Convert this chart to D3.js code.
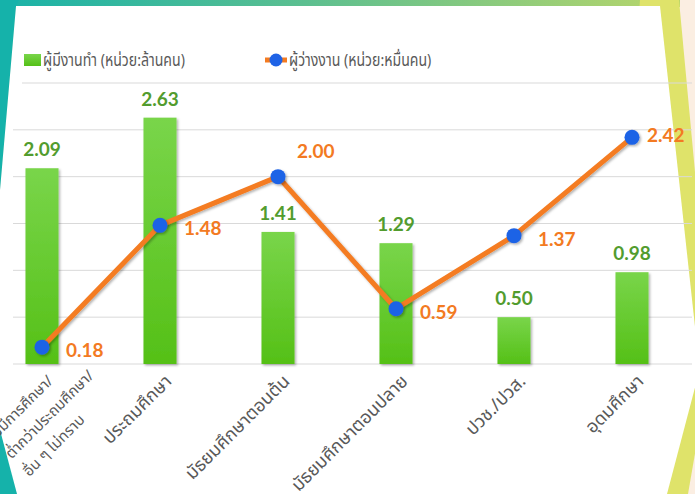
<!DOCTYPE html>
<html>
<head>
<meta charset="utf-8">
<script src="https://cdn.jsdelivr.net/npm/d3@7"></script>
<style>
  body { margin: 0; background: #fbeee2; }
  svg { display: block; }
</style>
</head>
<body>
<svg id="chart" width="695" height="494"></svg>
<script>
// categories (education level) and the two series
var categories = [
  "ไม่มีการศึกษา/\nต่ำกว่าประถมศึกษา/\nอื่น ๆ ไม่ทราบ",
  "ประถมศึกษา",
  "มัธยมศึกษาตอนต้น",
  "มัธยมศึกษาตอนปลาย",
  "ปวช./ปวส.",
  "อุดมศึกษา"
];
var employed = [2.09, 2.63, 1.41, 1.29, 0.50, 0.98];     // ล้านคน
var unemployed = [0.18, 1.48, 2.00, 0.59, 1.37, 2.42];   // หมื่นคน
var yTicks = [0, 0.5, 1, 1.5, 2, 2.5, 3];
var seriesNames = ["ผู้มีงานทำ (หน่วย:ล้านคน)", "ผู้ว่างงาน (หน่วย:หมื่นคน)"];
// where each line label sits relative to its point
var lineLabelSide = ["right", "right", "above", "right", "right", "near"];

var thaiFont = "'Noto Sans Thai', Tahoma, 'Leelawadee UI', 'Noto Sans', sans-serif";
var numFont = "Lato, 'Open Sans', sans-serif";

var drawChart = function() {
  let svg = d3.select("#chart");
  let width = 695, height = 494;

  let defs = svg.append("defs");

  // slide background bits
  let topGrad = defs.append("linearGradient").attr("id", "topGrad");
  topGrad.append("stop").attr("offset", "0%").attr("stop-color", "#19b2a8");
  topGrad.append("stop").attr("offset", "45%").attr("stop-color", "#5cbf90");
  topGrad.append("stop").attr("offset", "100%").attr("stop-color", "#b9d66a");

  let barGrad = defs.append("linearGradient").attr("id", "barGrad")
    .attr("x1", 0).attr("y1", 0).attr("x2", 0).attr("y2", 1);
  barGrad.append("stop").attr("offset", "0%").attr("stop-color", "#79d54a");
  barGrad.append("stop").attr("offset", "100%").attr("stop-color", "#55c017");

  let shadow = defs.append("filter").attr("id", "shadow")
    .attr("x", "-20%").attr("y", "-20%").attr("width", "140%").attr("height", "140%");
  shadow.append("feDropShadow")
    .attr("dx", 1.5).attr("dy", 1.5).attr("stdDeviation", 1)
    .attr("flood-color", "#000").attr("flood-opacity", 0.3);

  svg.append("rect").attr("width", width).attr("height", height).attr("fill", "#fbeee2");
  svg.append("rect").attr("x", 0).attr("y", 0).attr("width", 680).attr("height", 7)
    .attr("fill", "url(#topGrad)");
  svg.append("polygon")
    .attr("points", "640,0 679,0 712,355 688,494 600,494")
    .attr("fill", "#dfe36a");
  svg.append("polygon")
    .attr("points", "16,6 660,6 697,345 697,380 667,494 13,494 0,443 0,190")
    .attr("fill", "#ffffff");
  svg.append("polygon").attr("points", "0,0 19,0 16,6 0,190").attr("fill", "#15b2aa");
  svg.append("polygon").attr("points", "0,430 17,494 0,494").attr("fill", "#15b2aa");

  // scales
  let margin = { top: 83, bottom: 364 };
  let x = d3.scaleBand()
    .domain(categories)
    .range([-17, 691])
    .paddingInner(0.72)
    .paddingOuter(0.36);
  let y = d3.scaleLinear()
    .domain([0, 3])
    .range([margin.bottom, margin.top]);

  let plot = svg.append("g").attr("id", "plot");

  // gridlines
  plot.append("g").attr("id", "grid")
    .selectAll("line")
    .data(yTicks)
    .enter().append("line")
    .attr("x1", (d) => d === 3 ? 22 : 13)
    .attr("x2", 692)
    .attr("y1", (d) => y(d))
    .attr("y2", (d) => y(d))
    .attr("stroke", "#d9d9d9")
    .attr("stroke-width", 1);

  // bars
  plot.append("g").attr("id", "bars")
    .selectAll("rect")
    .data(employed)
    .enter().append("rect")
    .attr("x", (d, i) => x(categories[i]))
    .attr("y", (d) => y(d))
    .attr("width", x.bandwidth())
    .attr("height", (d) => y(0) - y(d))
    .attr("fill", "url(#barGrad)")
    .attr("filter", "url(#shadow)");

  // bar labels
  plot.append("g").attr("id", "bar-labels")
    .selectAll("text")
    .data(employed)
    .enter().append("text")
    .text((d) => d.toFixed(2))
    .attr("x", (d, i) => x(categories[i]) + x.bandwidth() / 2)
    .attr("y", (d) => y(d) - 12)
    .attr("text-anchor", "middle")
    .style("fill", "#529c2e")
    .style("font-family", numFont)
    .style("font-weight", "bold")
    .style("font-size", "19px");

  // line series
  let cx = (i) => x(categories[i]) + x.bandwidth() / 2;
  let line = d3.line()
    .x((d, i) => cx(i))
    .y((d) => y(d));

  plot.append("path")
    .datum(unemployed)
    .attr("d", line)
    .attr("fill", "none")
    .attr("stroke", "#f47b20")
    .attr("stroke-width", 5)
    .attr("stroke-linejoin", "round")
    .attr("filter", "url(#shadow)");

  plot.append("g").attr("id", "markers")
    .selectAll("circle")
    .data(unemployed)
    .enter().append("circle")
    .attr("cx", (d, i) => cx(i))
    .attr("cy", (d) => y(d))
    .attr("r", 7.5)
    .attr("fill", "#1f63e6")
    .attr("filter", "url(#shadow)");

  let labelDx = { right: 24, above: 19, near: 15 };
  let labelDy = { right: 10, above: -19, near: 5 };
  plot.append("g").attr("id", "line-labels")
    .selectAll("text")
    .data(unemployed)
    .enter().append("text")
    .text((d) => d.toFixed(2))
    .attr("x", (d, i) => cx(i) + labelDx[lineLabelSide[i]])
    .attr("y", (d, i) => y(d) + labelDy[lineLabelSide[i]])
    .style("fill", "#f37a22")
    .style("font-family", numFont)
    .style("font-weight", "bold")
    .style("font-size", "19px");

  // category axis labels, rotated -45
  let axisLabels = plot.append("g").attr("id", "x-labels");
  categories.forEach(function(c, i) {
    let g = axisLabels.append("g")
      .attr("transform", "translate(" + cx(i) + "," + y(0) + ") rotate(-45)");
    let lines = c.split("\n");
    let t = g.append("text")
      .style("fill", "#595959")
      .style("font-family", thaiFont)
      .style("font-size", lines.length === 1 ? "18px" : "15px");
    if (lines.length === 1) {
      t.attr("text-anchor", "end").attr("x", -4).attr("y", 22).text(c);
    } else {
      // first line ends at the tick like the others, following lines line up on its start
      let probe = t.append("tspan").text(lines[0]);
      let w0 = probe.node().getComputedTextLength();
      probe.remove();
      lines.forEach(function(l, j) {
        t.append("tspan")
          .attr("x", -4 - w0)
          .attr("y", 21 + j * 25)
          .text(l);
      });
    }
  });

  // legend
  let legend = svg.append("g").attr("id", "legend");
  legend.append("rect")
    .attr("x", 24).attr("y", 54).attr("width", 17).attr("height", 12)
    .attr("fill", "url(#barGrad)");
  legend.append("text")
    .text(seriesNames[0])
    .attr("transform", "translate(43,66) scale(0.83,1)")
    .style("fill", "#595959")
    .style("font-family", thaiFont)
    .style("font-size", "17px");
  legend.append("line")
    .attr("x1", 265).attr("x2", 287).attr("y1", 60).attr("y2", 60)
    .attr("stroke", "#f47b20").attr("stroke-width", 5);
  legend.append("circle")
    .attr("cx", 276).attr("cy", 60).attr("r", 6.5)
    .attr("fill", "#1f63e6");
  legend.append("text")
    .text(seriesNames[1])
    .attr("transform", "translate(289,66) scale(0.83,1)")
    .style("fill", "#595959")
    .style("font-family", thaiFont)
    .style("font-size", "17px");
}

drawChart();
</script>
</body>
</html>
